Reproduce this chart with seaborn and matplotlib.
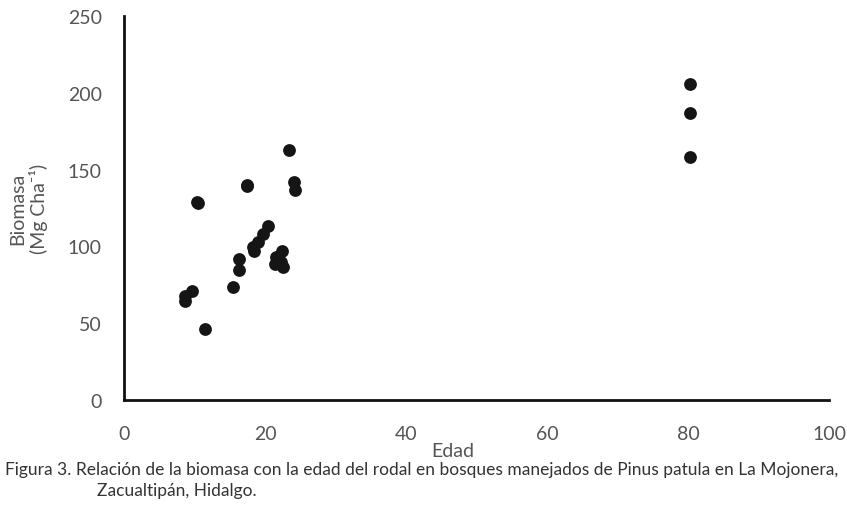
import seaborn as sns
import pandas as pd
from matplotlib import pyplot as plt

edad = [80.3, 80.3, 80.3, 23.4, 24.1, 24.3, 17.4, 17.5, 10.5, 10.4, 20.4, 19.7, 19.0,
        18.3, 18.4, 22.4, 21.5, 22.3, 21.4, 22.6, 16.3, 16.3, 15.4, 9.6, 8.7, 8.6, 11.5]
biomasa = [206, 187, 158, 163, 142, 137, 139, 140, 128, 129, 113, 108, 103,
           99.6, 97, 97, 93, 90, 88.5, 86.6, 92, 84.6, 73.6, 71, 67.7, 64.4, 46]

df = pd.DataFrame({"Edad": edad, "Biomasa": biomasa})

sns.set_style("white")
plt.rcParams['font.family'] = ['Lato', 'DejaVu Sans']

fig = plt.figure(figsize=(8.47, 5.10), dpi=100)
ax = fig.add_axes([0.1464, 0.2137, 0.8326, 0.753])
sns.scatterplot(data=df, x="Edad", y="Biomasa", color="#151515", s=85, edgecolor="#151515",
                linewidth=0, ax=ax)

ax.set_xlim(0, 100)
ax.set_ylim(0, 250)
ax.set_xticks([0, 20, 40, 60, 80, 100])
ax.set_yticks([0, 50, 100, 150, 200, 250])
ax.spines['top'].set_visible(False)
ax.spines['right'].set_visible(False)
for s in ['left', 'bottom']:
    ax.spines[s].set_linewidth(2)
    ax.spines[s].set_color("#111111")
ax.tick_params(axis='x', direction='out', length=4, width=2, color="#111111",
               pad=14, labelsize=14, labelcolor="#555555")
ax.tick_params(axis='y', direction='out', length=4, width=2, color="#111111",
               pad=12, labelsize=14, labelcolor="#555555")

ax.set_xlabel("")
ax.set_ylabel("")
fig.text(0.535, 0.115, "Edad", ha='center', va='center', fontsize=14, color="#555555")
fig.text(0.021, 0.59, "Biomasa", rotation=90, ha='center', va='center', fontsize=14,
         color="#555555")
fig.text(0.045, 0.59, "(Mg Cha\u207b\u00b9)", rotation=90, ha='center', va='center', fontsize=14,
         color="#555555")
fig.text(0.006, 0.078, "Figura 3. Relación de la biomasa con la edad del rodal en bosques manejados "
         "de Pinus patula en La Mojonera,", ha='left', va='center', fontsize=12.5,
         color="#333333")
fig.text(0.115, 0.038, "Zacualtipán, Hidalgo.", ha='left', va='center', fontsize=12.5,
         color="#333333")

plt.savefig("out.png", dpi=100)
